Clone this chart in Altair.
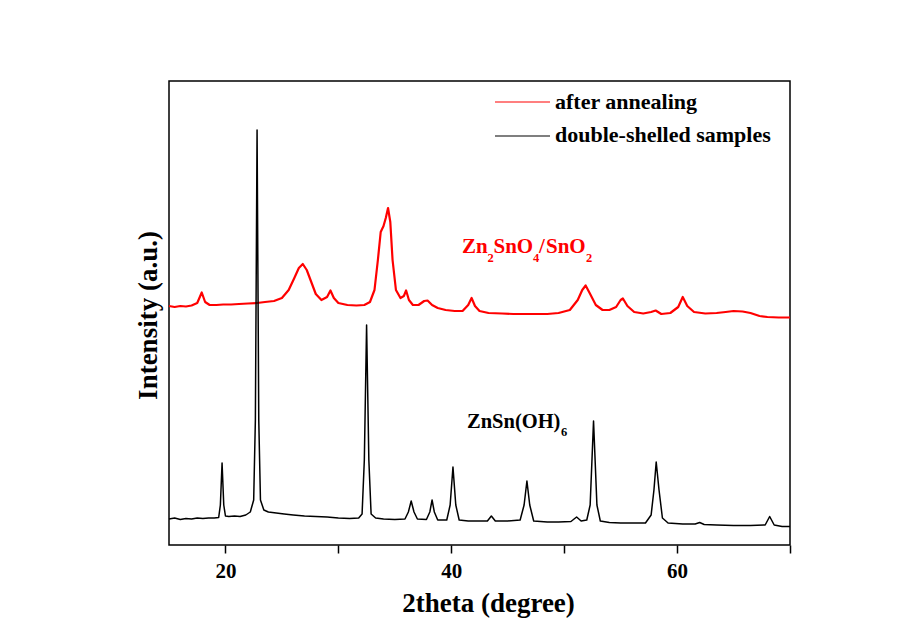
import altair as alt
import pandas as pd

FONT = "Liberation Serif"

series_names = ["after annealing", "double-shelled samples"]
series_colors = ["#ff0000", "#000000"]

# double-shelled samples (ZnSn(OH)6)
black_2theta = [15.0, 15.5, 16.0, 16.5, 17.0, 17.5, 18.0, 18.5, 19.0, 19.4, 19.55, 19.7, 19.85, 20.0,
                20.3, 20.8, 21.3, 21.8, 22.2, 22.5, 22.65, 22.8, 22.95, 23.1, 23.4, 23.8, 24.5, 25.2,
                26.0, 27.0, 28.0, 29.0, 30.0, 31.0, 31.8, 32.1, 32.3, 32.5, 32.7, 32.9, 33.3, 34.0,
                35.0, 35.9, 36.2, 36.45, 36.7, 37.0, 37.8, 38.1, 38.3, 38.5, 38.8, 39.6, 39.9, 40.15,
                40.4, 40.7, 41.5, 42.5, 43.2, 43.55, 43.9, 45.0, 46.1, 46.45, 46.7, 46.95, 47.3, 48.5,
                49.5, 50.6, 51.1, 51.5, 52.0, 52.3, 52.6, 52.9, 53.2, 54.0, 55.0, 56.0, 57.2, 57.7,
                57.95, 58.15, 58.4, 58.7, 59.2, 60.5, 61.6, 62.0, 62.4, 63.5, 65.0, 66.5, 67.8, 68.2,
                68.6, 69.3, 70.0]
black_intensity = [260, 270, 255, 265, 260, 270, 265, 270, 270, 275, 400, 820, 400, 290,
                   285, 290, 285, 300, 330, 450, 1250, 4150, 1250, 450, 350, 330, 320, 310,
                   300, 290, 285, 280, 270, 265, 270, 310, 850, 2200, 850, 310, 270, 260,
                   255, 260, 330, 440, 330, 260, 255, 330, 450, 330, 250, 250, 400, 780,
                   400, 250, 240, 240, 240, 290, 240, 240, 250, 400, 640, 400, 240, 230,
                   230, 235, 280, 240, 250, 400, 1240, 400, 240, 225, 220, 220, 220, 300,
                   550, 830, 550, 270, 220, 210, 210, 225, 205, 200, 195, 195, 200, 285,
                   200, 185, 185]

# after annealing (Zn2SnO4/SnO2)
red_2theta = [15.0, 15.5, 16.0, 16.5, 17.0, 17.5, 17.9, 18.2, 18.6, 19.2, 19.8, 20.5, 21.2, 22.0,
              22.8, 23.5, 24.3, 25.0, 25.6, 26.1, 26.5, 26.85, 27.2, 27.6, 28.0, 28.5, 29.0, 29.3,
              29.6, 30.0, 30.8, 31.6, 32.3, 32.8, 33.2, 33.5, 33.75, 34.0, 34.2, 34.4, 34.6, 34.8,
              35.1, 35.5, 35.8, 36.0, 36.25, 36.6, 37.1, 37.6, 37.9, 38.3, 38.8, 39.5, 40.3, 41.0,
              41.5, 41.8, 42.1, 42.5, 43.3, 44.5, 45.5, 46.5, 47.5, 48.5, 49.5, 50.5, 51.2, 51.6,
              51.9, 52.3, 52.8, 53.4, 54.0, 54.6, 55.0, 55.2, 55.6, 56.2, 57.0, 57.7, 58.1, 58.6,
              59.4, 60.1, 60.5, 60.9, 61.5, 62.5, 63.5, 64.3, 65.0, 65.8, 66.5, 67.3, 68.0, 69.0,
              70.0]
red_intensity = [2390, 2380, 2390, 2385, 2395, 2420, 2525, 2430, 2400, 2400, 2405, 2405, 2410, 2415,
                 2420, 2430, 2440, 2470, 2550, 2670, 2770, 2810, 2750, 2630, 2510, 2450, 2480, 2545,
                 2470, 2420, 2400, 2395, 2400, 2430, 2550, 2850, 3130, 3190, 3270, 3370, 3230, 2850,
                 2550, 2470, 2490, 2545, 2450, 2400, 2400, 2440, 2445, 2400, 2370, 2350, 2340, 2340,
                 2400, 2470, 2390, 2340, 2320, 2315, 2310, 2310, 2310, 2310, 2320, 2350, 2450, 2550,
                 2595, 2510, 2400, 2350, 2350, 2380, 2450, 2465, 2390, 2330, 2315, 2330, 2345, 2310,
                 2320, 2380, 2480, 2390, 2330, 2315, 2320, 2330, 2340, 2335, 2320, 2290, 2280, 2275,
                 2275]

x_ticks = [20, 30, 40, 50, 60, 70]

red_label = ["Zn", "2", "SnO", "4", "/", "SnO", "2"]
black_label = ["ZnSn(OH)", "6"]

df = pd.concat([
    pd.DataFrame({"two_theta": red_2theta, "intensity": red_intensity, "series": series_names[0]}),
    pd.DataFrame({"two_theta": black_2theta, "intensity": black_intensity, "series": series_names[1]}),
], ignore_index=True)

x_enc = alt.X("two_theta:Q",
              scale=alt.Scale(domain=[15, 70], nice=False, zero=False),
              axis=alt.Axis(values=x_ticks, labelExpr="datum.value % 20 == 0 ? datum.label : ''",
                            tickSize=8, tickWidth=1.5, labelFontSize=21, labelFontWeight="bold",
                            labelPadding=7, labelFlush=False,
                            title="2theta (degree)", titleFontSize=27, titleFontWeight="bold",
                            titleX=319, titleY=66, titleAlign="center", titleBaseline="alphabetic"))
y_enc = alt.Y("intensity:Q",
              scale=alt.Scale(domain=[0, 4640], nice=False, zero=False),
              axis=alt.Axis(labels=False, ticks=False, title="Intensity (a.u.)", titleFontSize=27,
                            titleFontWeight="bold", titleAngle=-90, titleX=-13, titleY=234,
                            titleAlign="center", titleBaseline="alphabetic"))
color_enc = alt.Color("series:N", scale=alt.Scale(domain=series_names, range=series_colors), legend=None)

red_line = alt.Chart(df).transform_filter(alt.datum.series == series_names[0]).mark_line(
    strokeWidth=2.2, strokeJoin="round").encode(x=x_enc, y=y_enc, color=color_enc)
black_line = alt.Chart(df).transform_filter(alt.datum.series == series_names[1]).mark_line(
    strokeWidth=1.5, strokeJoin="round").encode(x=x_enc, y=y_enc, color=color_enc)

one = pd.DataFrame({"k": [0]})


def txt(t, px, py, size, color, align="left"):
    return alt.Chart(one).mark_text(text=t, align=align, baseline="alphabetic", font=FONT,
                                    fontSize=size, fontWeight="bold", color=color).encode(
        x=alt.value(px), y=alt.value(py))


def rule(px1, px2, py, color):
    return alt.Chart(one).mark_rule(color=color, strokeWidth=1.2).encode(
        x=alt.value(px1), x2=alt.value(px2), y=alt.value(py))


layers = [red_line, black_line]
# legend
layers += [rule(326, 381, 21, series_colors[0]), txt(series_names[0], 386, 28, 22, "#000"),
           rule(326, 381, 55, series_colors[1]), txt(series_names[1], 386, 61, 22, "#000")]
# red annotation: Zn2SnO4/SnO2
rx, ry = 293, 172
red_offsets = [0, 25.5, 31.5, 71, 77, 84, 124]
red_sub = [False, True, False, True, False, False, True]
for t, off, sub in zip(red_label, red_offsets, red_sub):
    layers.append(txt(t, rx + off, ry + (8.5 if sub else 0), 12.5 if sub else 21, "#ff0000"))
# black annotation: ZnSn(OH)6
bx, by = 298, 347
layers.append(txt(black_label[0], bx, by, 20.5, "#000"))
layers.append(txt(black_label[1], bx + 94, by + 8, 12.5, "#000"))

chart = alt.layer(*layers).properties(
    width=621, height=464, autosize="none",
    padding={"left": 169, "top": 81, "right": 113, "bottom": 98},
    background="white",
).configure_view(stroke="#000", strokeWidth=1.5).configure_axis(
    grid=False, domain=False, labelFont=FONT, titleFont=FONT, labelColor="#000",
    titleColor="#000", tickColor="#000")

chart.save("out.html", embed_options={"renderer": "svg", "actions": False})
